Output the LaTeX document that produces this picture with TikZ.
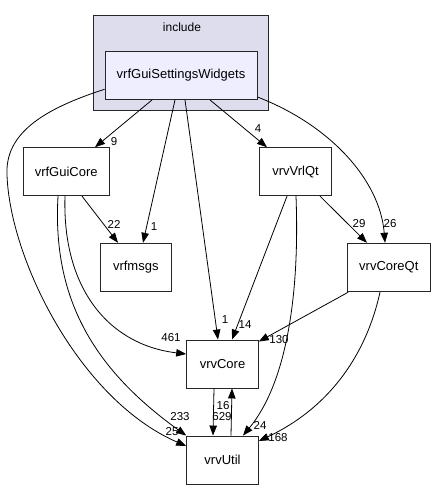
\documentclass[tikz,border=0pt]{standalone}
\usepackage{fontspec}
\setmainfont{Liberation Sans}
\usetikzlibrary{arrows.meta,calc}
\definecolor{clusterfill}{HTML}{DDDDEE}
\definecolor{dirfill}{HTML}{EEEEFF}
\definecolor{edgecol}{HTML}{000000}
\begin{document}
\begin{tikzpicture}[x=1pt,y=-1pt,
  dirbox/.style={draw=black!85,line width=0.9pt,fill=white,inner sep=0pt,
    font=\fontsize{13}{15}\selectfont,minimum width=71.7pt,minimum height=48pt},
  dep/.style={draw=edgecol,line width=0.8pt,-{Triangle[length=10pt,width=7.5pt]}},
  lbl/.style={inner sep=0pt,font=\fontsize{11.5}{13}\selectfont}]
\useasboundingbox (0,0) rectangle (436,489);
% cluster
\node[draw=black!85,line width=0.9pt,fill=clusterfill,minimum width=175.4pt,minimum height=94.3pt,inner sep=0pt] (cl) at (181,62.85) {};
\node[lbl,font=\fontsize{12}{14}\selectfont] (cltitle) at (182,27) {include};
% nodes
\node[dirbox,fill=dirfill,minimum width=152pt] (sw) at (181,75.5) {vrfGuiSettingsWidgets};
\node[dirbox,minimum width=85.7pt] (gc) at (66.2,171.7) {vrfGuiCore};
\node[dirbox,minimum width=72.4pt] (vq) at (295.5,171.7) {vrvVrlQt};
\node[dirbox,minimum height=48.5pt] (ms) at (135.8,267.5) {vrfmsgs};
\node[dirbox,minimum width=82.3pt,minimum height=48.5pt] (cq) at (388.8,267.5) {vrvCoreQt};
\node[dirbox] (co) at (222.5,364) {vrvCore};
\node[dirbox] (ut) at (222.5,460) {vrvUtil};
% edges
\draw[dep] ($(sw.south)+(-29,0)$) -- ($(gc.north)+(28.8,0)$);
\draw[dep] ($(sw.south)+(29,0)$) -- ($(vq.north)+(-28.5,0)$);
\draw[dep] ($(sw.south)+(-6,0)$) -- ($(ms.north)+(7.2,0)$);
\draw[dep] ($(sw.south)+(4,0)$) -- ($(co.north)+(-4.5,0)$);
\draw[dep] ($(sw.west)+(0,13.8)$) .. controls (40,110) and (5,135) .. (7,175)
  .. controls (10,260) and (80,400) .. ($(ut.west)+(0,-14)$);
\draw[dep] ($(sw.east)+(0,21.5)$) .. controls (330,125) and (380,180) .. ($(cq.north)+(-3.8,0)$);
\draw[dep] ($(gc.south)+(15.8,0)$) -- ($(ms.north)+(-17.8,0)$);
\draw[dep] ($(gc.south)+(-1.2,0)$) .. controls (62,290) and (110,345) .. ($(co.west)+(0,-10)$);
\draw[dep] ($(gc.south)+(-8.2,0)$) .. controls (52,300) and (95,370) .. (ut.north west);
\draw[dep] ($(vq.south)+(-8.5,0)$) -- ($(co.north)+(9.5,0)$);
\draw[dep] ($(vq.south)+(0.5,0)$) .. controls (300,300) and (285,385) .. ($(ut.north)+(20.5,0)$);
\draw[dep] ($(vq.south)+(24.5,0)$) -- ($(cq.north)+(-21.8,0)$);
\draw[dep] ($(cq.south west)+(1,0)$) -- ($(co.north east)+(0,2)$);
\draw[dep] ($(cq.south)+(-8.8,0)$) .. controls (365,360) and (325,410) .. ($(ut.east)+(0,-19)$);
\draw[dep] ($(co.south)+(-8.5,0)$) -- ($(ut.north)+(-9.5,0)$);
\draw[dep] ($(ut.north)+(8.5,0)$) -- ($(co.south)+(9.5,0)$);
% labels
\node[lbl] (l9) at (114,142) {9};
\node[lbl] (l4) at (258,129) {4};
\node[lbl] (l22) at (114,224) {22};
\node[lbl] (l1a) at (154,227) {1};
\node[lbl] (l29) at (359,224) {29};
\node[lbl] (l26) at (390,224) {26};
\node[lbl] (l1b) at (225,320) {1};
\node[lbl] (l14) at (245,325) {14};
\node[lbl] (l461) at (171,338) {461};
\node[lbl] (l130) at (279,340) {130};
\node[lbl] (l16) at (223,406) {16};
\node[lbl] (l629) at (222,417) {629};
\node[lbl] (l233) at (180,417) {233};
\node[lbl] (l25) at (172,432) {25};
\node[lbl] (l24) at (260,425) {24};
\node[lbl] (l168) at (278,438) {168};
\end{tikzpicture}
\end{document}
